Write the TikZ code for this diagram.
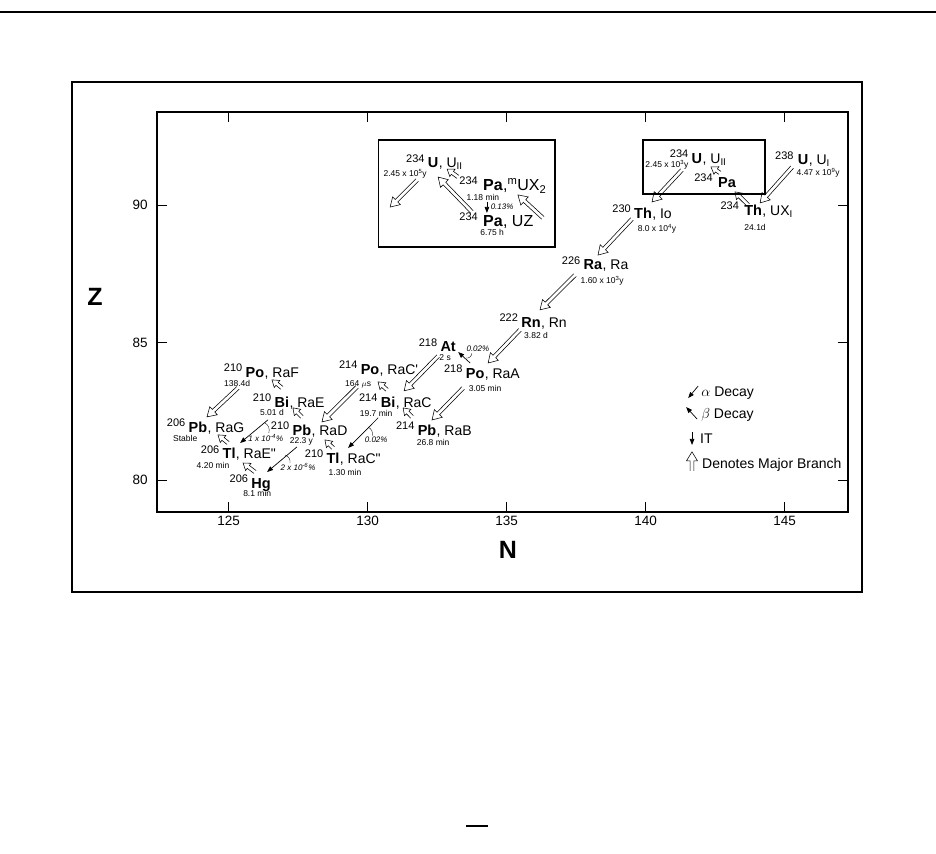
\documentclass[tikz,border=0pt]{standalone}
\usepackage{fontspec}
\setmainfont{Liberation Sans}
\usetikzlibrary{calc,arrows.meta}

\begin{document}
\begin{tikzpicture}[x=27.8pt,y=27.5pt,
  sym/.style={font=\fontsize{14.5}{15}\selectfont\bfseries,inner sep=0pt,text height=10.4pt,text depth=0pt},
  bigsym/.style={sym,font=\fontsize{16}{17}\selectfont\bfseries,text height=11.4pt},
  mass/.style={font=\fontsize{11}{12}\selectfont,inner sep=0pt,anchor=base east,xshift=-3pt},
  alias/.style={font=\fontsize{14}{15}\selectfont,inner sep=0pt,anchor=base west},
  bigalias/.style={alias,font=\fontsize{16}{17}\selectfont},
  hl/.style={font=\fontsize{8.5}{9.5}\selectfont,inner sep=0pt},
  pct/.style={font=\fontsize{8}{9}\selectfont\itshape,inner sep=0pt},
  tick/.style={font=\fontsize{13.5}{14}\selectfont,inner sep=0pt},
  axlab/.style={font=\fontsize{25}{26}\selectfont\bfseries,inner sep=0pt},
  legend/.style={font=\fontsize{14}{15}\selectfont,inner sep=0pt,anchor=west},
  minor/.style={line width=0.7pt,-{Triangle[length=6pt,width=4.5pt]}},
  lead/.style={line width=0.35pt},
  hollow/.style 2 args={line width=0.55pt,to path={
    ($(\tikztostart)!1.8pt!90:(\tikztotarget)$)
    -- ($(\tikztotarget)!#1!(\tikztostart)!1.8pt!-90:(\tikztostart)$)
    -- ($(\tikztotarget)!#1!(\tikztostart)!#2!-90:(\tikztostart)$)
    -- (\tikztotarget)
    -- ($(\tikztotarget)!#1!(\tikztostart)!#2!90:(\tikztostart)$)
    -- ($(\tikztotarget)!#1!(\tikztostart)!1.8pt!90:(\tikztostart)$)
    -- ($(\tikztostart)!1.8pt!-90:(\tikztotarget)$)}},
  major/.style={hollow={9pt}{5.5pt}},
  majorsm/.style={hollow={6.5pt}{4.5pt}}]
\useasboundingbox (116.78,66.40) rectangle (150.45,97.455);
% frame, boxes, axes
\draw[line width=2pt] (116.78,97.02) -- (150.45,97.02);
\draw[line width=1.6pt] (119.37,75.93) rectangle (147.79,94.47);
\draw[line width=1.5pt] (122.43,78.84) rectangle (147.28,93.38);
\draw[line width=1.2pt] (130.38,92.36) rectangle (136.74,88.47);
\draw[line width=1.2pt] (139.91,92.36) rectangle (144.30,90.40);
\foreach \x in {125,130,...,145}{\draw[line width=0.6pt] (\x,78.84)--(\x,79.2) (\x,93.38)--(\x,93.02); \node[tick] (tx\x) at (\x,78.51) {\x};}
\foreach \y in {80,85,90}{\draw[line width=0.6pt] (122.43,\y)--(122.79,\y) (147.28,\y)--(146.92,\y); \node[tick,anchor=east] (ty\y) at (122.10,\y) {\y};}
\node[axlab] (zlab) at (120.20,86.65) {Z};
\node[axlab] (nlab) at (135.05,77.45) {N};
\draw[line width=1.2pt] (133.54,67.42) -- (134.33,67.42);

% nuclides
\node[sym] (u238) at (145.67,91.67) {U};
\node[mass,xshift=-1pt] (u238m) at (u238.west) {238};
\node[alias] (u238a) at (u238.base east) {, U$_{\mathrm{I}}$};
\node[hl] (u238h) at (146.21,91.16) {4.47 x 10\textsuperscript{9}y};
\node[sym] (th234) at (143.87,89.82) {Th};
\node[mass,xshift=-2pt] (th234m) at (th234.west) {234};
\node[alias] (th234a) at (th234.base east) {, UX\textsubscript{I}};
\node[hl] (th234h) at (143.94,89.18) {24.1d};
\node[sym] (pa234) at (142.93,90.84) {Pa};
\node[mass,xshift=-2pt] (pa234m) at (pa234.west) {234};
\node[sym] (u234) at (141.85,91.71) {U};
\node[mass] (u234m) at (u234.west) {234};
\node[alias] (u234a) at (u234.base east) {, U$_{\mathrm{II}}$};
\node[hl] (u234h) at (140.77,91.45) {2.45 x 10\textsuperscript{3}y};
\node[sym] (th230) at (139.91,89.71) {Th};
\node[mass] (th230m) at (th230.west) {230};
\node[alias] (th230a) at (th230.base east) {, $\mathrm{Io}$};
\node[hl] (th230h) at (140.41,89.12) {8.0 x 10\textsuperscript{4}y};
\node[sym] (ra226) at (138.11,87.85) {Ra};
\node[mass] (ra226m) at (ra226.west) {226};
\node[alias] (ra226a) at (ra226.base east) {, Ra};
\node[hl] (ra226h) at (138.44,87.25) {1.60 x 10\textsuperscript{3}y};
\node[sym] (rn222) at (135.88,85.75) {Rn};
\node[mass] (rn222m) at (rn222.west) {222};
\node[alias] (rn222a) at (rn222.base east) {, Rn};
\node[hl] (rn222h) at (136.06,85.25) {3.82 d};
\node[sym] (po218) at (133.87,83.89) {Po};
\node[mass] (po218m) at (po218.west) {218};
\node[alias] (po218a) at (po218.base east) {, RaA};
\node[hl] (po218h) at (134.23,83.33) {3.05 min};
\node[sym] (at218) at (132.90,84.87) {At};
\node[mass] (at218m) at (at218.west) {218};
\node[hl] (at218h) at (132.79,84.45) {2 s};
\node[sym] (pb214) at (132.14,81.82) {Pb};
\node[mass] (pb214m) at (pb214.west) {214};
\node[alias] (pb214a) at (pb214.base east) {, RaB};
\node[hl] (pb214h) at (132.36,81.36) {26.8 min};
\node[sym] (bi214) at (130.74,82.84) {Bi};
\node[mass] (bi214m) at (bi214.west) {214};
\node[alias] (bi214a) at (bi214.base east) {, RaC};
\node[hl] (bi214h) at (130.31,82.42) {19.7 min};
\node[sym] (po214) at (130.09,84.04) {Po};
\node[mass] (po214m) at (po214.west) {214};
\node[alias] (po214a) at (po214.base east) {, RaC\textquotesingle};
\node[hl] (po214h) at (129.66,83.49) {164 $\mu$s};
\node[sym] (tl210) at (128.76,80.80) {Tl};
\node[mass] (tl210m) at (tl210.west) {210};
\node[alias] (tl210a) at (tl210.base east) {, RaC\textquotedbl};
\node[hl] (tl210h) at (129.19,80.27) {1.30 min};
\node[sym] (pb210) at (127.64,81.82) {Pb};
\node[mass] (pb210m) at (pb210.west) {210};
\node[alias] (pb210a) at (pb210.base east) {, RaD};
\node[hl] (pb210h) at (127.62,81.39) {22.3 y};
\node[sym] (bi210) at (126.92,82.84) {Bi};
\node[mass] (bi210m) at (bi210.west) {210};
\node[alias] (bi210a) at (bi210.base east) {, RaE};
\node[hl] (bi210h) at (126.56,82.45) {5.01 d};
\node[sym] (po210) at (125.95,83.93) {Po};
\node[mass] (po210m) at (po210.west) {210};
\node[alias] (po210a) at (po210.base east) {, RaF};
\node[hl] (po210h) at (125.31,83.51) {138.4d};
\node[sym] (tl206) at (125.02,80.98) {Tl};
\node[mass] (tl206m) at (tl206.west) {206};
\node[alias] (tl206a) at (tl206.base east) {, RaE\textquotedbl};
\node[hl] (tl206h) at (124.44,80.53) {4.20 min};
\node[sym] (pb206) at (123.90,81.93) {Pb};
\node[mass] (pb206m) at (pb206.west) {206};
\node[alias] (pb206a) at (pb206.base east) {, RaG};
\node[hl] (pb206h) at (123.44,81.51) {Stable};
\node[sym] (hg206) at (126.17,79.89) {Hg};
\node[mass] (hg206m) at (hg206.west) {206};
\node[hl] (hg206h) at (126.03,79.51) {8.1 min};
% left inset
\node[sym] (uii) at (132.36,91.56) {U};
\node[mass] (uiim) at (uii.west) {234};
\node[alias] (uiia) at (uii.base east) {, U$_{\mathrm{II}}$};
\node[hl] (uiih) at (131.35,91.14) {2.45 x 10\textsuperscript{5}y};
\node[bigsym] (pam) at (134.51,90.73) {Pa};
\node[mass,xshift=-2pt] (pamm) at (pam.west) {234};
\node[bigalias] (pama) at (pam.base east) {,\textsuperscript{m}UX\textsubscript{2}};
\node[hl] (pamh) at (134.15,90.26) {1.18 min};
\node[bigsym] (pauz) at (134.51,89.42) {Pa};
\node[mass,xshift=-2pt] (pauzm) at (pauz.west) {234};
\node[bigalias] (pauza) at (pauz.base east) {, UZ};
\node[hl] (pauzh) at (134.48,89.00) {6.75 h};

% branching ratios
\node[pct] (pcat) at (133.97,84.76) {0.02\%};
\node[pct] (pcbi) at (130.31,81.45) {0.02\%};
\node[pct] (pcbie) at (126.34,81.53) {1 x 10\textsuperscript{-4}\%};
\node[pct] (pcpb) at (127.50,80.47) {2 x 10\textsuperscript{-6}\%};
\node[pct] (pcpa) at (134.84,89.93) {0.13\%};
\draw[lead] ([xshift=-12pt,yshift=-9pt]pcat.center) to[bend right=50] ([xshift=-6pt,yshift=-4pt]pcat.center);
\draw[lead] ([xshift=-8pt,yshift=13pt]pcbi.center) to[bend left=40] ([xshift=-4pt,yshift=4pt]pcbi.center);
\draw[lead] ([xshift=-1pt,yshift=15pt]pcbie.center) to[bend left=40] ([xshift=3pt,yshift=5pt]pcbie.center);
\draw[lead] ([xshift=-13pt,yshift=12pt]pcpb.center) to[bend left=40] ([xshift=-8pt,yshift=4pt]pcpb.center);

% legend
\node[legend] (lgal) at (142.0,83.16) {$\alpha$ Decay};
\node[legend] (lgbe) at (142.0,82.36) {$\beta$ Decay};
\node[legend] (lgit) at (141.96,81.49) {IT};
\node[legend] (lgmj) at (142.03,80.55) {Denotes Major Branch};
\draw[minor] ([xshift=-3pt,yshift=7pt]lgal.west) -- ([xshift=-13pt,yshift=-5pt]lgal.west);
\draw[minor] ([xshift=-4pt,yshift=-4pt]lgbe.west) -- ([xshift=-15pt,yshift=8pt]lgbe.west);
\draw[minor] ([xshift=-8pt,yshift=7pt]lgit.west) -- ([xshift=-8pt,yshift=-6pt]lgit.west);
\draw[major] ([xshift=-10pt,yshift=-6pt]lgmj.west) to ([xshift=-10pt,yshift=13pt]lgmj.west);

% major branches
\draw[major] ([xshift=-11pt,yshift=-8pt]u238.center) to ([xshift=7pt,yshift=7pt]th234.center);
\draw[majorsm] ([xshift=-5pt,yshift=5pt]th234.center) to ([xshift=8pt,yshift=-10pt]pa234.center);
\draw[majorsm] ([xshift=-7pt,yshift=9pt]pa234.center) to ([xshift=14pt,yshift=-9pt]u234.center);
\draw[major] ([xshift=-15pt,yshift=-12pt]u234.center) to ([xshift=9pt,yshift=11pt]th230.center);
\draw[major] ([xshift=-11pt,yshift=-6pt]th230.center) to ([xshift=5pt,yshift=9pt]ra226.center);
\draw[major] ([xshift=-18pt,yshift=-11pt]ra226.center) to ([xshift=9pt,yshift=12pt]rn222.center);
\draw[major] ([xshift=-11pt,yshift=-8pt]rn222.center) to ([xshift=13pt,yshift=10pt]po218.center);
\draw[major] ([xshift=-12pt,yshift=-15pt]po218.center) to ([xshift=5pt,yshift=10pt]pb214.center);
\draw[major] ([xshift=-10pt,yshift=-10pt]at218.center) to ([xshift=16pt,yshift=11pt]bi214.center);
\draw[majorsm] ([xshift=-15pt,yshift=13pt]pb214.center) to ([xshift=15pt,yshift=-6pt]bi214.center);
\draw[majorsm] ([xshift=-1pt,yshift=12pt]bi214.center) to ([xshift=8pt,yshift=-13pt]po214.center);
\draw[major] ([xshift=-13pt,yshift=-18pt]po214.center) to ([xshift=20pt,yshift=8pt]pb210.center);
\draw[majorsm] ([yshift=10pt]tl210.center) to ([xshift=23pt,yshift=-10pt]pb210.center);
\draw[majorsm] ([yshift=13pt]pb210.center) to ([xshift=11pt,yshift=-6pt]bi210.center);
\draw[majorsm] ([yshift=14pt]bi210.center) to ([xshift=17pt,yshift=-8pt]po210.center);
\draw[major] ([xshift=-17pt,yshift=-16pt]po210.center) to ([xshift=9pt,yshift=10pt]pb206.center);
\draw[majorsm] ([xshift=-1pt,yshift=10pt]tl206.center) to ([xshift=20pt,yshift=-8pt]pb206.center);
\draw[majorsm] ([xshift=-6pt,yshift=11pt]hg206.center) to ([xshift=14pt,yshift=-10pt]tl206.center);
\draw[major] ([xshift=-16pt,yshift=-18pt]uii.center) to ([xshift=-43pt,yshift=-45pt]uii.center);
\draw[major] ([xshift=-21pt,yshift=9pt]pauz.center) to ([xshift=5pt,yshift=-15pt]uii.center);
\draw[majorsm] ([xshift=-35pt,yshift=8pt]pam.center) to ([xshift=14pt,yshift=-7pt]uii.center);
\draw[major] ([xshift=50pt,yshift=-33pt]pam.center) to ([xshift=25pt,yshift=-10pt]pam.center);

% minor branches
\draw[minor] ([xshift=-5pt,yshift=10pt]po218.center) -- ([xshift=10pt,yshift=-6pt]at218.center);
\draw[minor] ([xshift=-10pt,yshift=-16pt]bi214.center) -- ([xshift=15pt,yshift=10pt]tl210.center);
\draw[minor] ([xshift=-14pt,yshift=-18pt]bi210.center) -- ([xshift=11pt,yshift=10pt]tl206.center);
\draw[minor] ([xshift=-5pt,yshift=-17pt]pb210.center) -- ([xshift=6pt,yshift=11pt]hg206.center);
\draw[minor] ([xshift=-6pt,yshift=-17pt]pam.center) -- ([xshift=-6pt,yshift=8pt]pauz.center);
\end{tikzpicture}
\end{document}
